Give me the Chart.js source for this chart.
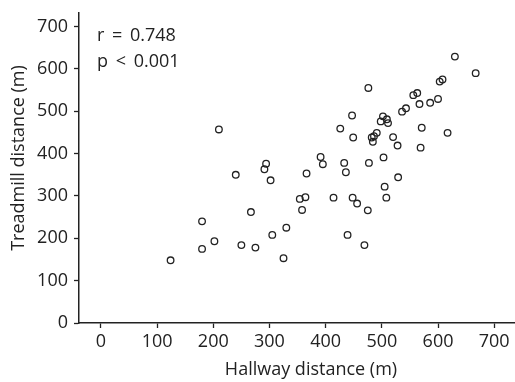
<!DOCTYPE html>
<html>
<head>
<meta charset="utf-8">
<script src="https://cdn.jsdelivr.net/npm/chart.js@4.4.0/dist/chart.umd.min.js"></script>
<style>
  html, body { margin: 0; padding: 0; background: #fff; }
  #wrap { width: 515px; height: 382px; position: relative; }
</style>
</head>
<body>
<div id="wrap"><canvas id="grafico"></canvas></div>
<script>
// values
const hallway = [124, 180, 180, 202, 210, 240, 250, 267, 275, 291, 294, 302, 305, 325, 330,
  354, 364, 358, 366, 391, 395, 414, 426, 433, 436, 439, 447, 448, 449, 456, 469, 475, 476,
  477, 482, 484, 486, 491, 498, 502, 503, 505, 508, 509, 511, 520, 528, 529, 536, 543, 556,
  563, 567, 569, 571, 586, 600, 603, 608, 617, 630, 667];
const treadmill = [148, 240, 175, 193, 457, 350, 184, 262, 178, 363, 376, 337, 208, 153, 225,
  293, 297, 267, 353, 392, 375, 296, 459, 378, 356, 208, 490, 296, 438, 282, 184, 266, 555,
  378, 438, 428, 441, 449, 476, 488, 391, 322, 296, 481, 472, 439, 419, 344, 499, 507, 538,
  543, 517, 414, 461, 520, 529, 570, 575, 449, 629, 590];

const xTicks = [0, 100, 200, 300, 400, 500, 600, 700];
const yTicks = [0, 100, 200, 300, 400, 500, 600, 700];
const xTitle = 'Hallway distance (m)';
const yTitle = 'Treadmill distance (m)';
const stats = ['r = 0.748', 'p < 0.001'];

const FONT = '"Open Sans", sans-serif';
const INK = '#222';

const points = hallway.map((x, i) => ({ x: x, y: treadmill[i] }));

// axis titles and the r / p note
const extraText = {
  id: 'extraText',
  afterDraw(chart) {
    const c = chart.ctx;
    c.save();
    c.fillStyle = INK;
    c.font = '18px ' + FONT;
    c.textAlign = 'center';
    c.textBaseline = 'middle';
    c.fillText(xTitle, 311, 370);
    c.translate(19, 158);
    c.rotate(-Math.PI / 2);
    c.fillText(yTitle, 0, 0);
    c.restore();

    c.save();
    c.fillStyle = INK;
    c.font = '18px ' + FONT;
    c.wordSpacing = '3px';
    c.textAlign = 'left';
    c.textBaseline = 'alphabetic';
    c.fillText(stats[0], 97, 41);
    c.fillText(stats[1], 97, 67);
    c.restore();
  }
};

const ctx = document.getElementById('grafico').getContext('2d');

new Chart(ctx, {
  type: 'scatter',
  data: {
    datasets: [{
      data: points,
      pointStyle: 'circle',
      pointRadius: 3.3,
      pointHoverRadius: 3.3,
      pointBorderWidth: 1.3,
      borderColor: '#222',
      backgroundColor: 'rgba(0,0,0,0)'
    }]
  },
  options: {
    responsive: true,
    maintainAspectRatio: false,
    animation: false,
    layout: { autoPadding: false, padding: { top: 13, right: 0, left: 0, bottom: 0 } },
    plugins: {
      legend: { display: false },
      tooltip: { enabled: false }
    },
    scales: {
      x: {
        type: 'linear',
        min: -39,
        max: 737,
        afterBuildTicks: (s) => { s.ticks = xTicks.map(v => ({ value: v })); },
        afterFit: (s) => { s.height = 59; s.paddingLeft = 0; s.paddingRight = 0; },
        grid: { drawOnChartArea: false, drawTicks: true, tickLength: 5, tickColor: INK, tickWidth: 1.3 },
        border: { display: true, color: INK, width: 1.5 },
        ticks: { color: INK, padding: 3, font: { family: FONT, size: 18 } }
      },
      y: {
        type: 'linear',
        min: 0,
        max: 732,
        afterBuildTicks: (s) => { s.ticks = yTicks.map(v => ({ value: v })); },
        afterFit: (s) => { s.width = 79; s.paddingTop = 0; s.paddingBottom = 0; },
        grid: { drawOnChartArea: false, drawTicks: true, tickLength: 5, tickColor: INK, tickWidth: 1.3 },
        border: { display: true, color: INK, width: 1.5 },
        ticks: { color: INK, padding: 6, font: { family: FONT, size: 18 } }
      }
    }
  },
  plugins: [extraText]
});
</script>
</body>
</html>
